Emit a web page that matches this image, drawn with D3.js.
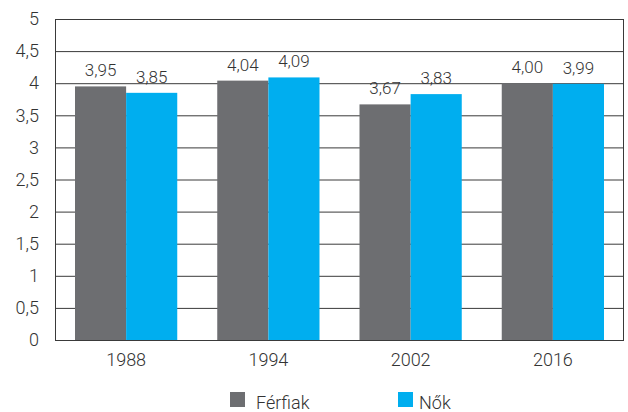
<!DOCTYPE html>
<html>
<head>
<meta charset="utf-8">
<script src="https://cdn.jsdelivr.net/npm/d3@7"></script>
<style>
  body { margin: 0; background: #fff; }
  text { font-family: Roboto, "Open Sans", sans-serif; font-weight: 300; fill: #333; }
</style>
</head>
<body>
<div id="chart-area"></div>
<script>
var years = ["1988", "1994", "2002", "2016"];
var series = ["Férfiak", "Nők"];
var ferfiak = [3.95, 4.04, 3.67, 4.00];
var nok = [3.85, 4.09, 3.83, 3.99];
var colors = ["#6d6e71", "#00aeef"];
var yTicks = [0, 0.5, 1, 1.5, 2, 2.5, 3, 3.5, 4, 4.5, 5];

var margin = { left: 55, right: 4, top: 19, bottom: 72 };
var width = 628 - margin.left - margin.right,
    height = 412 - margin.top - margin.bottom;

var svg = d3.select("#chart-area")
    .append("svg")
        .attr("width", 628)
        .attr("height", 412);

var g = svg.append("g")
    .attr("transform", "translate(" + margin.left + "," + margin.top + ")");

var x = d3.scaleBand().domain(years).range([0, width]).padding(0);
var x1 = d3.scaleBand().domain(series).range([20, x.bandwidth() - 20]).padding(0);
var y = d3.scaleLinear().domain([0, 5]).range([height, 0]);

var fmt = function(d) { return String(d).replace(".", ","); };

// gridlines
g.selectAll(".grid")
    .data(yTicks)
    .enter().append("line")
        .attr("x1", 0).attr("x2", width)
        .attr("y1", function(d) { return y(d) + 0.5; })
        .attr("y2", function(d) { return y(d) + 0.5; })
        .attr("stroke", "#3a3a3a")
        .attr("stroke-width", 1);

// frame
g.append("rect")
    .attr("x", 0.5).attr("y", 0.5)
    .attr("width", width - 1).attr("height", height)
    .attr("fill", "none")
    .attr("stroke", "#3a3a3a");

// bars
var data = years.map(function(yr, i) {
    return { year: yr, values: [ferfiak[i], nok[i]] };
});

var groups = g.selectAll(".year")
    .data(data)
    .enter().append("g")
        .attr("transform", function(d) { return "translate(" + x(d.year) + ",0)"; });

groups.selectAll("rect")
    .data(function(d) { return d.values.map(function(v, j) { return { s: series[j], v: v, c: colors[j] }; }); })
    .enter().append("rect")
        .attr("x", function(d) { return x1(d.s); })
        .attr("y", function(d) { return y(d.v); })
        .attr("width", x1.bandwidth())
        .attr("height", function(d) { return height - y(d.v); })
        .attr("fill", function(d) { return d.c; });

groups.selectAll(".val")
    .data(function(d) { return d.values.map(function(v, j) { return { s: series[j], v: v }; }); })
    .enter().append("text")
        .attr("x", function(d) { return x1(d.s) + x1.bandwidth() / 2; })
        .attr("y", function(d) { return y(d.v) - 10; })
        .attr("text-anchor", "middle")
        .attr("font-size", "17px")
        .text(function(d) { return d.v.toFixed(2).replace(".", ","); });

// y axis
var yAxis = g.append("g")
    .call(d3.axisLeft(y).tickValues(yTicks).tickFormat(fmt).tickSize(0).tickPadding(16));
yAxis.select(".domain").remove();
yAxis.selectAll("text")
    .attr("font-size", "18px")
    .attr("fill", "#333")
    .style("font-family", "Roboto, sans-serif")
    .style("font-weight", 300);

// x axis
var xAxis = g.append("g")
    .attr("transform", "translate(0," + height + ")")
    .call(d3.axisBottom(x).tickSize(0).tickPadding(13));
xAxis.select(".domain").remove();
xAxis.selectAll("text")
    .attr("font-size", "18px")
    .attr("fill", "#333")
    .style("font-family", "Roboto, sans-serif")
    .style("font-weight", 300);

// legend
var legendX = [230, 398];
var legend = svg.selectAll(".legend")
    .data(series)
    .enter().append("g")
        .attr("transform", function(d, i) { return "translate(" + legendX[i] + ",392)"; });

legend.append("rect")
    .attr("width", 15).attr("height", 15)
    .attr("fill", function(d, i) { return colors[i]; });

legend.append("text")
    .attr("x", function(d, i) { return i === 0 ? 26 : 21; })
    .attr("y", 17)
    .attr("font-size", "18px")
    .text(function(d) { return d; });
</script>
</body>
</html>
